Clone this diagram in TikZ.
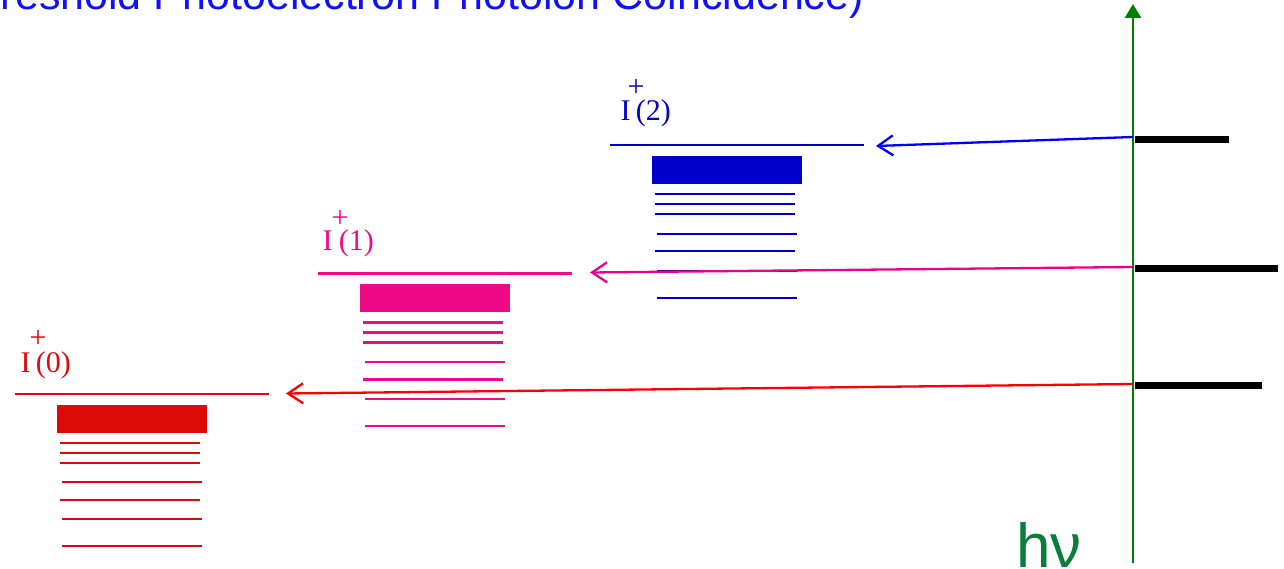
\documentclass[tikz,border=0pt]{standalone}
\usepackage{fontspec}
\setmainfont{Liberation Serif}
\newfontfamily\titlefont{Liberation Sans}
\usetikzlibrary{arrows.meta}
\definecolor{titleblue}{RGB}{16,16,255}
\definecolor{lvlblue}{RGB}{0,0,204}
\definecolor{lvlpink}{RGB}{240,10,135}
\definecolor{lvlred}{RGB}{221,10,10}
\definecolor{axisgreen}{RGB}{0,128,0}
\definecolor{hvgreen}{RGB}{10,125,60}
\tikzset{
  lvlline/.style={line width=2.4pt},
  photo/.style={line width=2.3pt,-{Straight Barb[length=15pt,width=20pt]}},
  bar/.style={black,line width=7pt},
  lbl/.style={inner sep=0pt,font=\fontsize{30}{34}\selectfont},
}
\newcommand\ionstack[3]{% X0, L, colour
  \draw[#3,lvlline] (#1,#2) -- ({#1+254},#2);
  \fill[#3] ({#1+42},{#2+11}) rectangle ({#1+192},{#2+39});
  \foreach \dy/\dx in {49/0,59/0,69/0,88.5/2,106/0,125.5/2,152.5/2}
    \draw[#3,lvlline] ({#1+45+\dx},{#2+\dy}) -- ({#1+185+\dx},{#2+\dy});
}
\begin{document}
\begin{tikzpicture}[x=1pt,y=-1pt]
\useasboundingbox (0,0) rectangle (1284,569);
\clip (0,0) rectangle (1284,569);
% title
\node[anchor=base west,inner sep=0pt,text=titleblue,font=\titlefont\fontsize{43}{50}\selectfont] (title) at (-49.5,9.8) {Threshold Photoelectron Photoion Coincidence)};
% levels
\ionstack{610}{145.3}{lvlblue}
\ionstack{318}{273.3}{lvlpink}
\ionstack{15}{393.7}{lvlred}
% labels
\node[lbl,anchor=base west,text=lvlblue] (i2) at (620.5,121) {I};
\node[lbl,anchor=center,text=lvlblue] (p2) at (636,88.5) {+};
\node[lbl,anchor=base west,text=lvlblue] (n2) at (635.6,121) {(2)};
\node[lbl,anchor=base west,text=lvlpink] (i1) at (322.5,251) {I};
\node[lbl,anchor=center,text=lvlpink] (p1) at (340,219) {+};
\node[lbl,anchor=base west,text=lvlpink] (n1) at (338.6,251) {(1)};
\node[lbl,anchor=base west,text=lvlred] (i0) at (20.5,372) {I};
\node[lbl,anchor=center,text=lvlred] (p0) at (38,339) {+};
\node[lbl,anchor=base west,text=lvlred] (n0) at (35.6,372) {(0)};
% photon axis
\coordinate (axbot) at (1133,563);
\coordinate (axtop) at (1133,4);
\draw[axisgreen,line width=2.8pt,-{Triangle[length=14pt,width=16pt]}] (axbot) -- (axtop);
\node[anchor=base west,inner sep=0pt,text=hvgreen,font=\titlefont\fontsize{62}{70}\selectfont] (hnu) at (1016,567) {hν};
% black bars
\coordinate (b2a) at (1135,139.5); \coordinate (b2b) at (1229,139.5);
\coordinate (b1a) at (1135,268); \coordinate (b1b) at (1278,268);
\coordinate (b0a) at (1135,385); \coordinate (b0b) at (1262,385);
\draw[bar] (b2a) -- (b2b);
\draw[bar] (b1a) -- (b1b);
\draw[bar] (b0a) -- (b0b);
% arrows
\coordinate (a2s) at (1133,137); \coordinate (a2e) at (876,146);
\coordinate (a1s) at (1133,267); \coordinate (a1e) at (590,272.5);
\coordinate (a0s) at (1133,384); \coordinate (a0e) at (286,393.5);
\draw[photo,blue] (a2s) -- (a2e);
\draw[photo,magenta] (a1s) -- (a1e);
\draw[photo,red] (a0s) -- (a0e);
\end{tikzpicture}
\end{document}
